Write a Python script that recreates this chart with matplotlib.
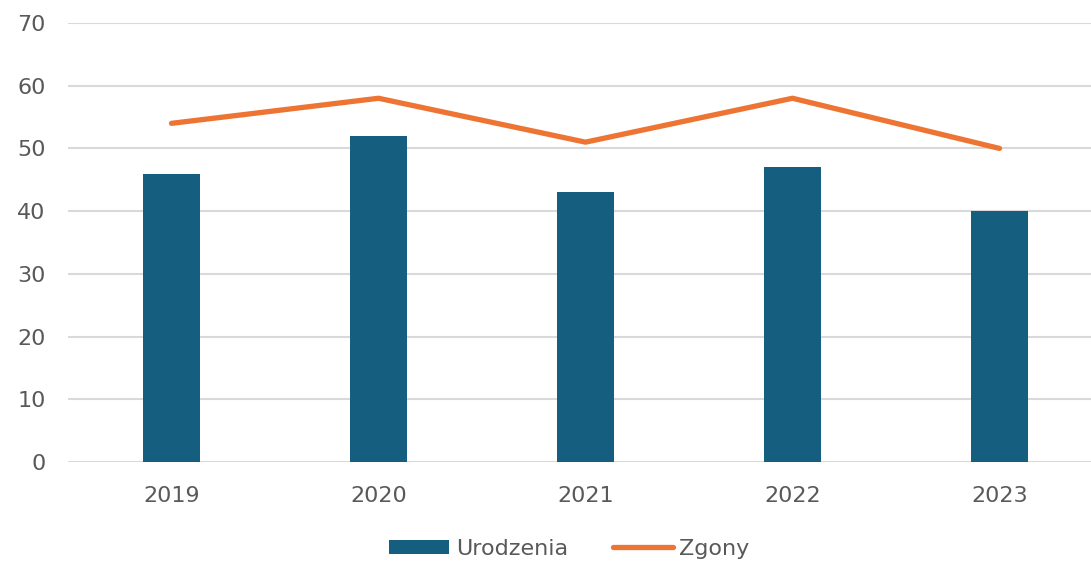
import matplotlib.pyplot as plt
import numpy as np

years = ["2019", "2020", "2021", "2022", "2023"]
urodzenia = [46, 52, 43, 47, 40]
zgony = [54, 58, 51, 58, 50]

plt.rcParams['font.family'] = ['DejaVu Sans']

fig = plt.figure(figsize=(10.91, 5.62), dpi=100)
ax = fig.add_axes([68/1091, 1-462/562, 1-68/1091, 439/562])

x = np.arange(len(years))
bars = ax.bar(x, urodzenia, width=0.275, color="#165E80", label="Urodzenia", zorder=2)
line, = ax.plot(x, zgony, color="#ED7432", linewidth=3.8, solid_capstyle="round", label="Zgony", zorder=3)

ax.set_xlim(-0.5, (1091-68)/207 - 0.5)
ax.set_ylim(0, 70)
ax.set_yticks(range(0, 71, 10))
ax.set_xticks(x)
ax.set_xticklabels(years)
ax.grid(axis="y", color="#d9d9d9", linewidth=1.5, zorder=0)
ax.set_axisbelow(True)
for s in ax.spines.values():
    s.set_visible(False)
ax.tick_params(length=0, labelsize=16, labelcolor="#595959")
ax.tick_params(axis="x", pad=17)
ax.tick_params(axis="y", pad=16)

fig.legend([bars, line], ["Urodzenia", "Zgony"], loc="lower center",
           bbox_to_anchor=(0.522, -0.03), ncol=2, frameon=False,
           fontsize=16, labelcolor="#595959", handlelength=2.7, handleheight=0.65,
           columnspacing=2.0, handletextpad=0.3)

fig.savefig("out.png", dpi=100)
